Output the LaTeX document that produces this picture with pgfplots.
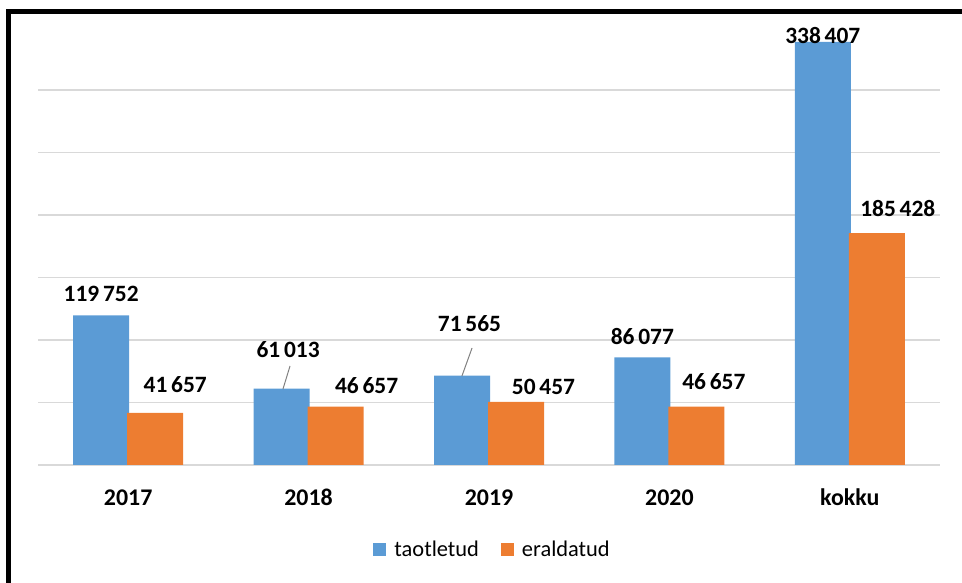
\documentclass[border=0pt]{standalone}
\usepackage{pgfplots}
\pgfplotsset{compat=1.18}
\usepackage{fontspec}
\setmainfont{Carlito}

\definecolor{cblue}{HTML}{5B9BD5}
\definecolor{corange}{HTML}{ED7D31}
\definecolor{cgrid}{HTML}{D9D9D9}

\begin{document}
\begin{tikzpicture}
\useasboundingbox (0,0) rectangle (962bp,583bp);
\draw[line width=5bp, line join=miter] (8.5bp,-3bp) -- (8.5bp,571.5bp) -- (965bp,571.5bp);

\begin{axis}[
    at={(38bp,118bp)}, anchor=south west,
    scale only axis,
    width=902bp, height=437.5bp,
    ybar=-2bp, bar width=56bp,
    xmin=-0.5, xmax=4.5,
    ymin=0, ymax=350000,
    xtick=data,
    xticklabels={2017,2018,2019,2020,kokku},
    xticklabel style={anchor=center, yshift=-32.5bp, font=\fontsize{24}{28}\selectfont\bfseries},
    ytick={0,50000,...,300000},
    yticklabels={},
    scaled y ticks=false,
    major tick length=0pt,
    ymajorgrids,
    grid style={cgrid, line width=1.5bp},
    axis line style={draw=none},
    /pgf/number format/.cd, fixed, precision=0, 1000 sep={\hspace{0.16em}}, assume math mode=true,
    /pgfplots/.cd,
    nodes near coords,
    every node near coord/.append style={font=\fontsize{23.5}{28}\selectfont\bfseries, text=black},
    legend style={at={(0.504,-0.194)}, anchor=center, draw=none, legend columns=2,
        font=\fontsize{22.5}{27}\selectfont,
        /tikz/every even column/.append style={column sep=20bp}},
    legend image code/.code={\fill[#1] (0bp,-6.5bp) rectangle (13bp,6.5bp); \path (19bp,0bp);},
]

\addplot[fill=cblue, draw=none,
    visualization depends on={value \thisrow{dx}\as\dx},
    visualization depends on={value \thisrow{dy}\as\dy},
    every node near coord/.append style={anchor=center, xshift=\dx bp, yshift=\dy bp}]
table[x=x, y=y] {
x y      dx  dy
0 119752 0   21.5
1 61013  6.5 39
2 71565  7.5 52
3 86077  0   21
4 338407 0   6.5
};

\addplot[fill=corange, draw=none,
    visualization depends on={value \thisrow{dx}\as\dx},
    visualization depends on={value \thisrow{dy}\as\dy},
    every node near coord/.append style={anchor=center, xshift=\dx bp, yshift=\dy bp}]
table[x=x, y=y] {
x y      dx   dy
0 41657  20   28
1 46657  31   21
2 50457  27.5 15.5
3 46657  17.5 25
4 185428 21   24.5
};

\legend{taotletud,eraldatud}

% leader lines for the moved labels
\draw[gray, line width=1bp] (axis cs:0.858,60800) -- (axis cs:0.897,79200);
\draw[gray, line width=1bp] (axis cs:1.850,71200) -- (axis cs:1.906,93600);
\end{axis}
\end{tikzpicture}
\end{document}
